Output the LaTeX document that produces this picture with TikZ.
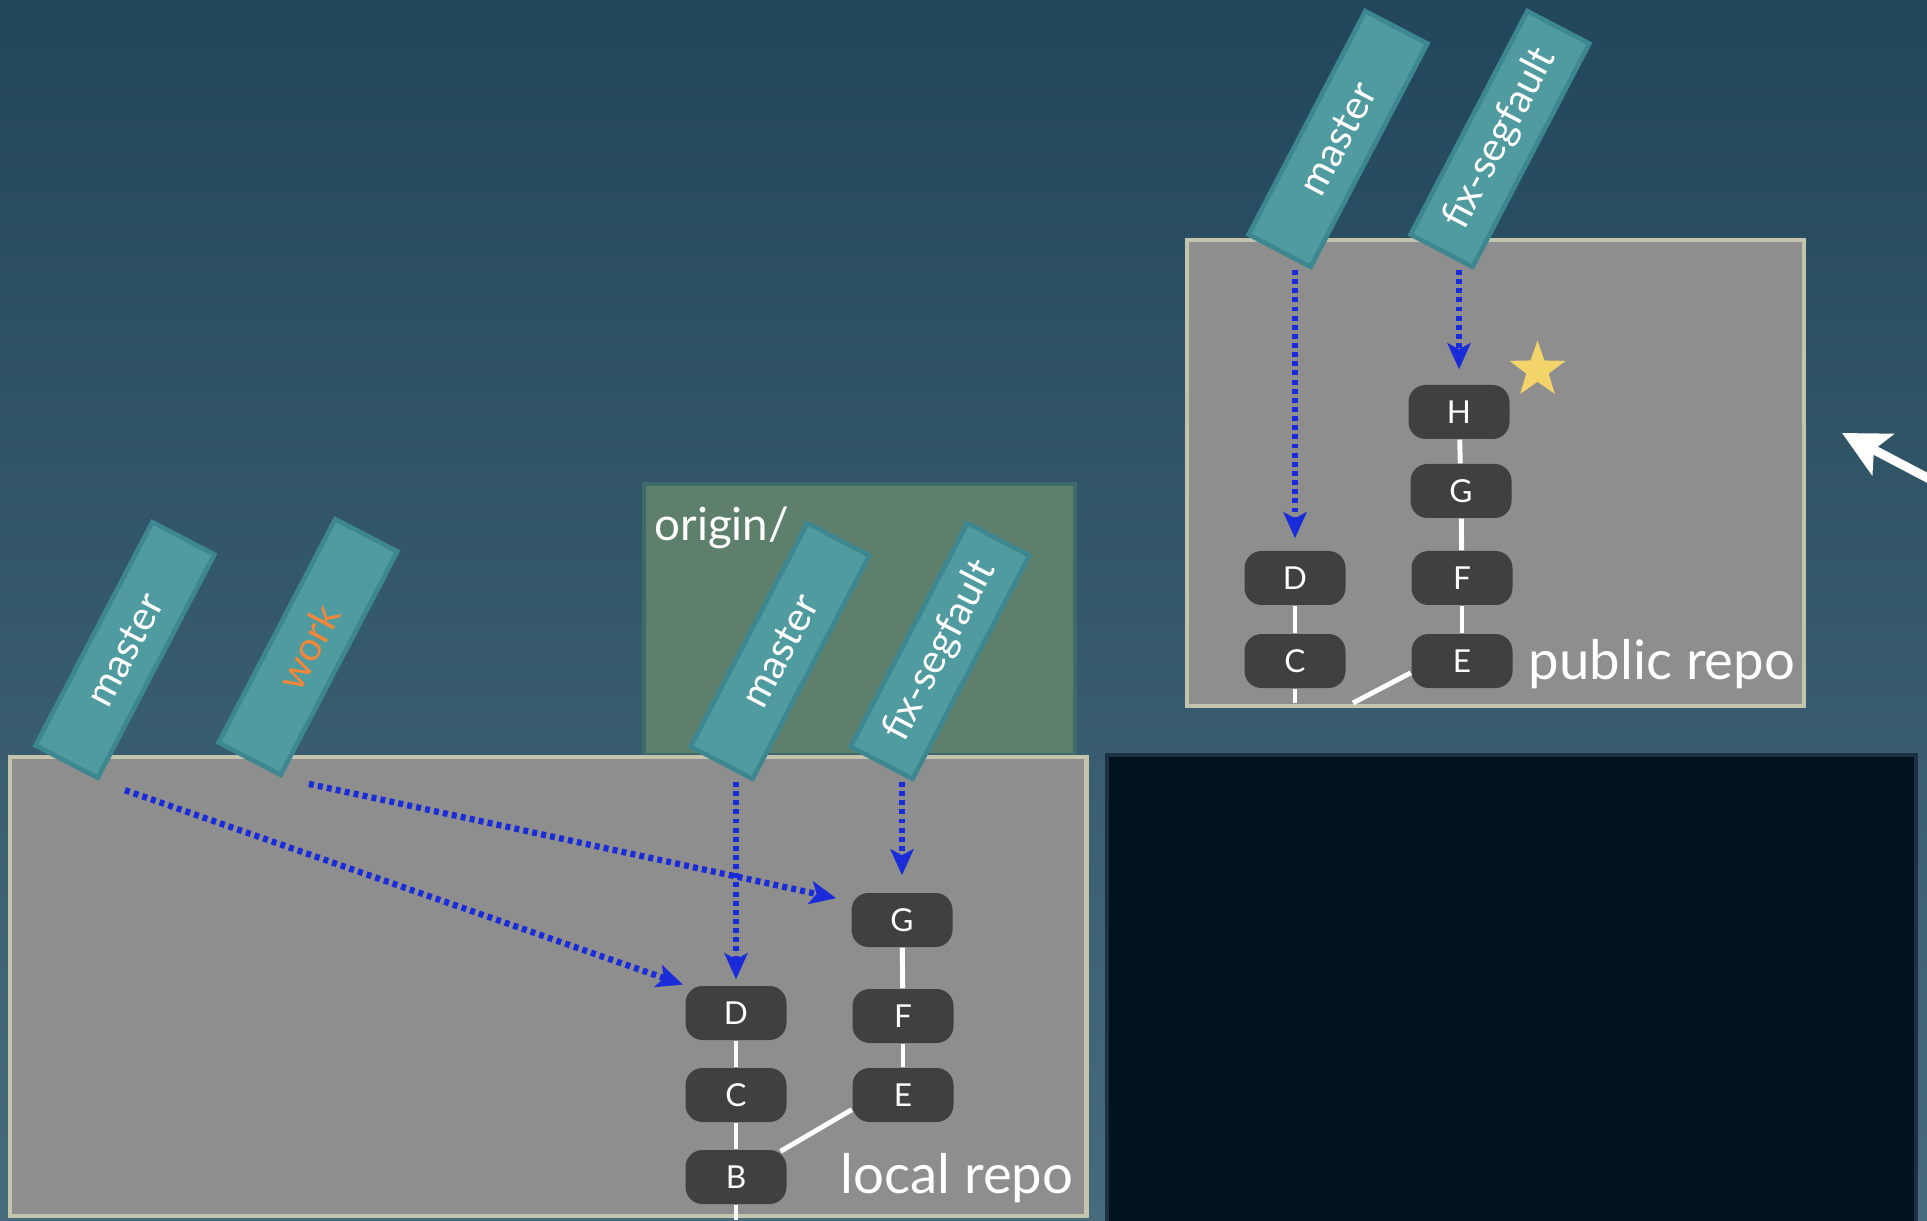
\documentclass[tikz,border=0pt]{standalone}
\usepackage{fontspec}
\setmainfont{Lato}
\usepackage{xcolor}
\usetikzlibrary{arrows.meta,shapes.geometric}
\definecolor{bgtop}{HTML}{23475A}
\definecolor{bgbottom}{HTML}{466B7C}
\definecolor{repofill}{HTML}{8E8E8E}
\definecolor{repoedge}{HTML}{C4C4AE}
\definecolor{originfill}{HTML}{5E7F6C}
\definecolor{originedge}{HTML}{3D6B6B}
\definecolor{darkfill}{HTML}{00131F}
\definecolor{darkedge}{HTML}{1E3045}
\definecolor{tagfill}{HTML}{4F9BA0}
\definecolor{tagedge}{HTML}{3D8790}
\definecolor{commitfill}{HTML}{404040}
\definecolor{pointerblue}{HTML}{1A2BD9}
\definecolor{starfill}{HTML}{F2D46A}
\definecolor{workorange}{HTML}{F0873A}
\tikzset{
  repobox/.style={draw=repoedge,fill=repofill,line width=1.4pt},
  commitbox/.style={fill=commitfill,rounded corners=0.17cm,inner sep=0pt,
    minimum width=1.01cm,minimum height=0.54cm,text=white,
    font=\fontsize{9}{10}\selectfont},
  branchtag/.style={draw=tagedge,fill=tagfill,line width=1.3pt,rotate=62.4,
    minimum width=2.52cm,minimum height=0.70cm,inner sep=0pt,text=white,
    font=\fontsize{11.5}{13}\selectfont},
  historyline/.style={draw=white,line width=1.4pt},
  pointerarrow/.style={-{Stealth[length=0.26cm,width=0.23cm,inset=0.06cm]},
    draw=pointerblue,line width=1.8pt,dash pattern=on 1.4pt off 1.2pt},
  repolabel/.style={text=white,font=\fontsize{15.5}{18}\selectfont,
    anchor=base west,inner sep=0pt}
}

\begin{document}
\begin{tikzpicture}[x=1cm,y=1cm]
  \clip (0,0) rectangle (19.27,12.20);
  \shade[top color=bgtop,bottom color=bgbottom] (0,0) rectangle (19.27,12.20);
  % repository areas
  \draw[draw=originedge,fill=originfill,line width=1.2pt] (6.44,4.65) rectangle (10.75,7.36);
  \draw[repobox] (0.10,0.04) rectangle (10.865,4.63);
  \draw[draw=darkedge,fill=darkfill,line width=1.2pt] (11.07,-0.3) rectangle (19.16,4.65);
  \draw[repobox] (11.87,5.14) rectangle (18.04,9.80);
  \node[text=white,font=\fontsize{13}{15}\selectfont,anchor=base west,inner sep=0pt]
    (originlabel) at (6.54,6.80) {origin/};

  % local repo
  \node[commitbox] (lD) at (7.36,2.07) {D};
  \node[commitbox] (lC) at (7.36,1.25) {C};
  \node[commitbox] (lB) at (7.36,0.43) {B};
  \node[commitbox] (lG) at (9.02,3.00) {G};
  \node[commitbox] (lF) at (9.03,2.04) {F};
  \node[commitbox] (lE) at (9.03,1.25) {E};
  \coordinate (lBend) at (7.36,0.00);
  \draw[historyline] (lD) -- (lC);
  \draw[historyline] (lC) -- (lB);
  \draw[historyline] (lB) -- (lBend);
  \draw[historyline] (lG) -- (lF);
  \draw[historyline] (lF) -- (lE);
  \draw[historyline,shorten >=-0.04cm] (lE.196) -- (lB.30);
  \node[repolabel] (locallabel) at (8.40,0.27) {local repo};

  \node[branchtag] (lmaster) at (1.25,5.70) {master};
  \node[branchtag,text=workorange] (lwork) at (3.08,5.73) {work};
  \node[branchtag] (omaster) at (7.80,5.69) {master};
  \node[branchtag] (ofix) at (9.40,5.69) {fix-segfault};

  \draw[pointerarrow,shorten <=0.28cm,shorten >=0.02cm] (lmaster.south west) -- (lD.north west);
  \draw[pointerarrow,shorten <=0.28cm,shorten >=0.15cm] (lwork.south west) -- (lG.160);
  \draw[pointerarrow,shorten >=0.06cm] (omaster.south west -| lD.north) -- (lD.north);
  \draw[pointerarrow,shorten >=0.17cm] (ofix.south west -| lG.north) -- (lG.north);

  % public repo
  \node[commitbox] (pH) at (14.59,8.08) {H};
  \node[commitbox] (pG) at (14.61,7.29) {G};
  \node[commitbox] (pF) at (14.62,6.42) {F};
  \node[commitbox] (pE) at (14.62,5.59) {E};
  \node[commitbox] (pD) at (12.95,6.42) {D};
  \node[commitbox] (pC) at (12.95,5.59) {C};
  \coordinate (pCend) at (12.95,5.17);
  \coordinate (pEend) at (13.53,5.17);
  \draw[historyline] (pH) -- (pG);
  \draw[historyline] (pG) -- (pF);
  \draw[historyline] (pF) -- (pE);
  \draw[historyline] (pD) -- (pC);
  \draw[historyline] (pC) -- (pCend);
  \draw[historyline] (pE.193) -- (pEend);
  \node[star,star points=5,star point ratio=2.5,fill=starfill,minimum size=0.59cm,
    inner sep=0pt] (newstar) at (15.375,8.50) {};
  \node[repolabel] (publiclabel) at (15.28,5.40) {public repo};

  \node[branchtag] (pmaster) at (13.38,10.81) {master};
  \node[branchtag] (pfix) at (15.00,10.81) {fix-segfault};

  \draw[pointerarrow,shorten >=0.12cm] (pmaster.south west -| pD.north) -- (pD.north);
  \draw[pointerarrow,shorten >=0.15cm] (pfix.south west -| pH.north) -- (pH.north);

  % push arrow
  \coordinate (pushtail) at (19.60,7.25);
  \coordinate (pushtip) at (18.42,7.87);
  \draw[-{Stealth[length=0.46cm,width=0.46cm,inset=0.1cm]},white,line width=2.6pt]
    (pushtail) -- (pushtip);
\end{tikzpicture}
\end{document}
